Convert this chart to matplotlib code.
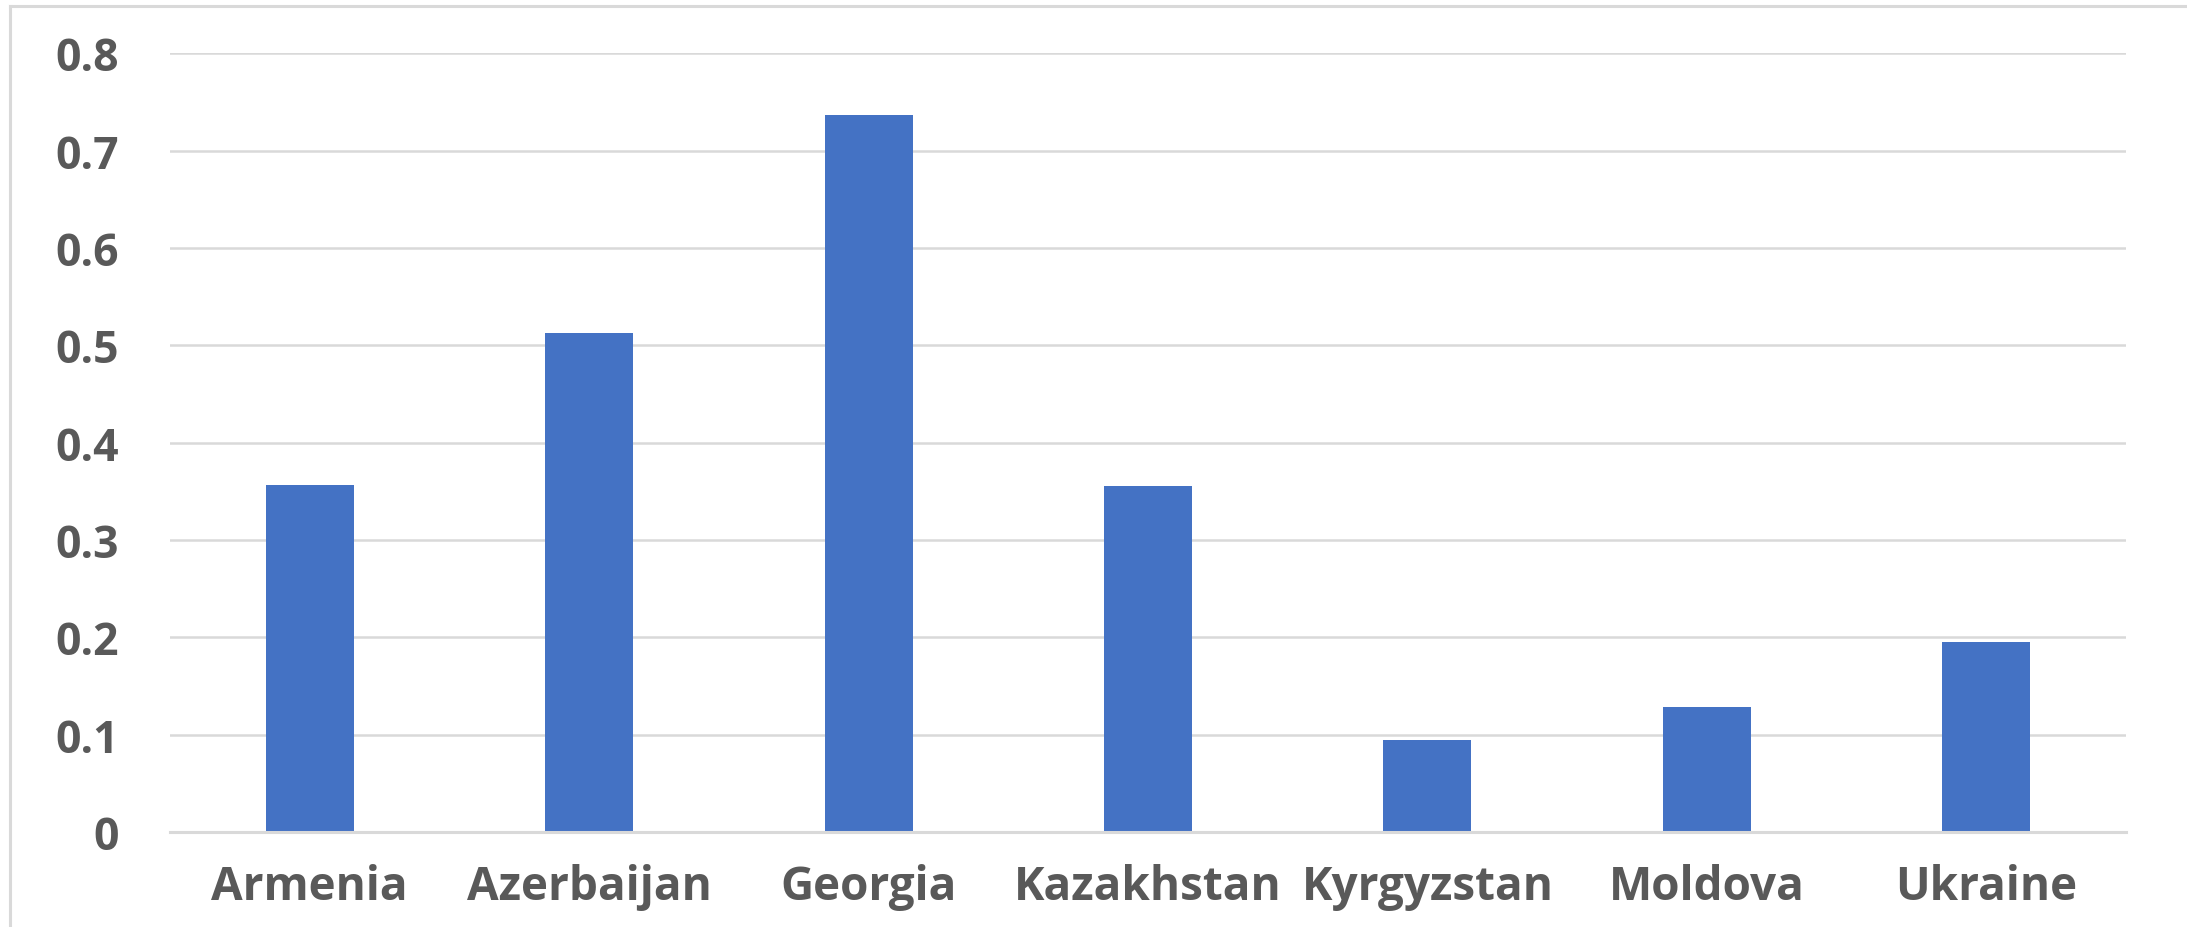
import matplotlib.pyplot as plt
from matplotlib.lines import Line2D

COUNTRIES = ["Armenia", "Azerbaijan", "Georgia", "Kazakhstan", "Kyrgyzstan", "Moldova", "Ukraine"]
VALUES = [0.357, 0.513, 0.737, 0.356, 0.095, 0.128, 0.195]
Y_TICKS = [0, 0.1, 0.2, 0.3, 0.4, 0.5, 0.6, 0.7, 0.8]
Y_TICK_LABELS = ["0", "0.1", "0.2", "0.3", "0.4", "0.5", "0.6", "0.7", "0.8"]

BAR_COLOR = "#4472C4"
GRID_COLOR = "#D9D9D9"
TEXT_COLOR = "#595959"

plt.rcParams["font.family"] = ["Open Sans", "DejaVu Sans"]

fig = plt.figure(figsize=(21.87, 9.28), dpi=100)
ax = fig.add_axes([0.0777, 0.1024, 0.8944, 0.8389])

ax.bar(range(len(COUNTRIES)), VALUES, width=0.315, color=BAR_COLOR, zorder=3)

ax.set_xlim(-0.5, len(COUNTRIES) - 0.5)
ax.set_ylim(0, 0.8)
ax.set_yticks(Y_TICKS)
ax.set_yticklabels(Y_TICK_LABELS)
ax.set_xticks(range(len(COUNTRIES)))
ax.set_xticklabels(COUNTRIES)

ax.tick_params(axis="y", length=0, pad=37, labelsize=32, labelcolor=TEXT_COLOR)
ax.tick_params(axis="x", length=0, pad=22, labelsize=33, labelcolor=TEXT_COLOR)
for lbl in ax.get_xticklabels() + ax.get_yticklabels():
    lbl.set_fontweight("bold")

ax.grid(axis="y", color=GRID_COLOR, linewidth=1.8, zorder=0)
ax.grid(axis="x", visible=False)
for side in ["top", "right", "left"]:
    ax.spines[side].set_visible(False)
ax.spines["bottom"].set_color(GRID_COLOR)
ax.spines["bottom"].set_linewidth(2.2)
ax.spines["bottom"].set_zorder(4)

# frame lines along the left and top of the figure
fig.add_artist(Line2D([10 / 2187, 10 / 2187], [0, 1 - 7 / 928], color=GRID_COLOR, linewidth=2.2))
fig.add_artist(Line2D([10 / 2187, 1], [1 - 7 / 928, 1 - 7 / 928], color=GRID_COLOR, linewidth=2.2))

fig.savefig("out.png", dpi=100)
